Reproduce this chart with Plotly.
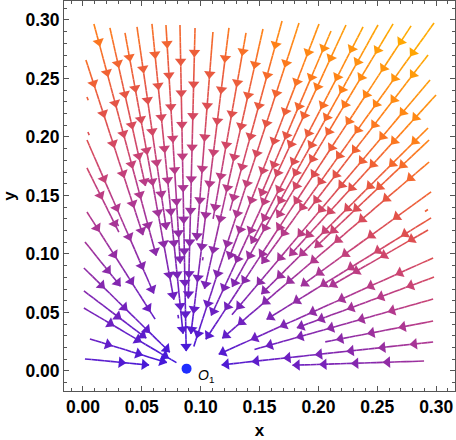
import math
import plotly.graph_objects as go

# stable node O1
node_x = 0.088
node_y = 0.002

# outer ends of the streamlines: top edge, right edge, left edge
top_x = [0.0093, 0.0229, 0.0357, 0.0459, 0.0586, 0.0705, 0.0824, 0.0952, 0.1104, 0.1240, 0.1385,
         0.1529, 0.1691, 0.1835, 0.2005, 0.2107, 0.2234, 0.2379, 0.2506, 0.2634, 0.2787, 0.2982]
top_y = [0.2966, 0.2932, 0.2889, 0.2940, 0.2966, 0.2957, 0.2957, 0.2932, 0.2897, 0.2932, 0.2889,
         0.2923, 0.2991, 0.2974, 0.2966, 0.2906, 0.2957, 0.2940, 0.2957, 0.2966, 0.2949, 0.2974]
top_r = [0.10, 0.16, 0.06, 0.12, 0.03, 0.09, 0.015, 0.06, 0.11, 0.03, 0.13,
         0.07, 0.14, 0.02, 0.10, 0.16, 0.05, 0.12, 0.08, 0.15, 0.03, 0.11]

right_x = [0.2931, 0.2948, 0.2999, 0.2931, 0.2940, 0.2940, 0.2957, 0.2957, 0.2931, 0.2974,
           0.2982, 0.2974, 0.2974, 0.2974, 0.2897]
right_y = [0.2701, 0.2487, 0.2359, 0.2077, 0.1974, 0.1786, 0.1530, 0.1308, 0.1205, 0.0966,
           0.0803, 0.0615, 0.0427, 0.0248, 0.0085]
right_r = [0.17, 0.06, 0.13, 0.09, 0.15, 0.04, 0.12, 0.08, 0.14, 0.03,
           0.10, 0.06, 0.12, 0.03, 0.09]

left_x = [0.0025, 0.0034, 0.0034, 0.0034, 0.0017, 0.0008, 0.0008, 0.0008, 0.0059, 0.0017]
left_y = [0.2658, 0.1974, 0.1735, 0.1359, 0.1103, 0.0880, 0.0684, 0.0538, 0.0274, 0.0103]
left_r = [0.12, 0.07, 0.13, 0.05, 0.09, 0.02, 0.043, 0.01, 0.0175, 0.032]

# tiny leftover pieces of streamlines
stub_x = [0.0034, 0.0042, 0.0289, 0.0807, 0.1020, 0.2930]
stub_y = [0.2342, 0.2043, 0.1265, 0.0479, 0.0974, 0.1380]

palette = [(0.00, (58, 22, 224)), (0.15, (106, 31, 196)), (0.28, (140, 42, 168)),
           (0.40, (176, 56, 144)), (0.50, (204, 68, 112)), (0.60, (224, 80, 76)),
           (0.70, (242, 100, 50)), (0.80, (255, 128, 24)), (0.90, (255, 148, 16)),
           (1.00, (255, 170, 0))]


def color_t(x, y):
    if x < node_x:
        g = 1.1 * (node_x - x)
    else:
        g = 1.65 * (x - node_x)
    return max(0.0, min(1.0, g + 2.45 * (y - node_y)))


def rgb(t):
    for (t0, c0), (t1, c1) in zip(palette[:-1], palette[1:]):
        if t <= t1:
            f = (t - t0) / (t1 - t0)
            c = [round(a + (b - a) * f) for a, b in zip(c0, c1)]
            return "rgb(%d,%d,%d)" % tuple(c)
    return "rgb(255,170,0)"


sx = top_x + right_x + left_x
sy = top_y + right_y + left_y
sr = top_r + right_r + left_r

nbins = 32
bins_x = [[] for _ in range(nbins)]
bins_y = [[] for _ in range(nbins)]
arr_x, arr_y, arr_a, arr_c = [], [], [], []

piece = 0.005
for j, (x0, y0, r) in enumerate(zip(sx, sy, sr)):
    dx, dy = node_x - x0, node_y - y0
    dist = math.hypot(dx, dy)
    ux, uy = dx / dist, dy / dist
    length = dist - r
    n = max(2, int(length / piece))
    for k in range(n):
        a = length * k / n
        b = length * (k + 1) / n
        m = (a + b) / 2
        t = color_t(x0 + ux * m, y0 + uy * m)
        i = int(round(t * (nbins - 1)))
        bins_x[i] += [x0 + ux * a, x0 + ux * b, None]
        bins_y[i] += [y0 + uy * a, y0 + uy * b, None]
    ang = math.degrees(math.atan2(ux, uy))
    s_list = []
    s = 0.016 + 0.005 * ((j * 3) % 5)
    while s < length - 0.008:
        s_list.append(s)
        s += 0.027
    if not s_list or s_list[-1] < length - 0.014:
        s_list.append(length - 0.004)
    for s in s_list:
        px, py = x0 + ux * s, y0 + uy * s
        arr_x.append(px)
        arr_y.append(py)
        arr_a.append(ang)
        arr_c.append(rgb(color_t(px, py)))

for x0, y0 in zip(stub_x, stub_y):
    dx, dy = node_x - x0, node_y - y0
    dist = math.hypot(dx, dy)
    ux, uy = dx / dist, dy / dist
    t = color_t(x0, y0)
    i = int(round(t * (nbins - 1)))
    bins_x[i] += [x0, x0 + ux * 0.003, None]
    bins_y[i] += [y0, y0 + uy * 0.003, None]

fig = go.Figure()
for i in range(nbins):
    if not bins_x[i]:
        continue
    fig.add_trace(go.Scatter(x=bins_x[i], y=bins_y[i], mode="lines",
                             line=dict(color=rgb(i / (nbins - 1)), width=1.6),
                             hoverinfo="skip"))

fig.add_trace(go.Scatter(x=arr_x, y=arr_y, mode="markers",
                         marker=dict(symbol="triangle-up", size=10, angle=arr_a,
                                     color=arr_c, line=dict(width=0)),
                         hoverinfo="skip"))

fig.add_trace(go.Scatter(x=[node_x], y=[node_y], mode="markers",
                         marker=dict(size=10, color="#1f2dff"), hoverinfo="skip"))

fig.add_annotation(x=0.1045, y=-0.0045, text="<i>O</i><sub>1</sub>", showarrow=False,
                   font=dict(size=14, color="black"))

axis = dict(showline=True, linecolor="#555555", linewidth=1, mirror="allticks",
            ticks="inside", ticklen=5, tickcolor="#555555", tick0=0, dtick=0.05,
            tickformat=".2f", showgrid=False, zeroline=False, automargin=False,
            tickfont=dict(size=17.5, weight="bold", color="black"),
            minor=dict(ticks="inside", ticklen=3, dtick=0.01, tickcolor="#555555"))

fig.update_xaxes(axis, range=[-0.0161, 0.316],
                 title=dict(text="<b>x</b>", standoff=8, font=dict(size=17)))
fig.update_yaxes(axis, range=[-0.0171, 0.3162],
                 title=dict(text="<b>y</b>", standoff=8, font=dict(size=17)))

fig.update_layout(width=456, height=440, margin=dict(l=64, r=1, t=1, b=49),
                  plot_bgcolor="white", paper_bgcolor="white", showlegend=False,
                  font=dict(family="Liberation Sans, Arial", size=16, color="black"))

fig.write_html("out.html", config={"displayModeBar": False},
               post_script="document.body.style.margin='0';")
